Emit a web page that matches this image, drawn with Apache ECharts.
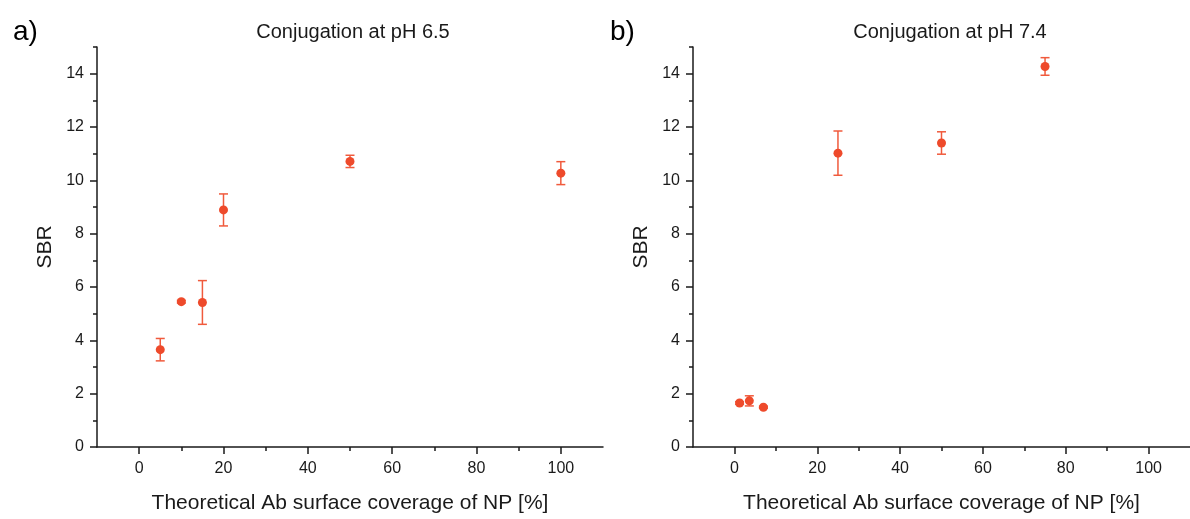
<!DOCTYPE html>
<html>
<head>
<meta charset="utf-8">
<script src="https://cdn.jsdelivr.net/npm/echarts@6/dist/echarts.min.js"></script>
<style>
html,body{margin:0;padding:0;background:#fff;}
#chart{width:1190px;height:519px;}
</style>
</head>
<body>
<div id="chart"></div>
<script>
// Panel a) Conjugation at pH 6.5
const xA = [5, 10, 15, 20, 50, 100];
const yA = [3.65, 5.45, 5.42, 8.89, 10.71, 10.27];
const eA = [0.42, 0.05, 0.82, 0.60, 0.23, 0.43];
// Panel b) Conjugation at pH 7.4
const xB = [1.25, 3.6, 7, 25, 50, 75];
const yB = [1.65, 1.73, 1.49, 11.02, 11.40, 14.27];
const eB = [0.05, 0.19, 0.04, 0.83, 0.42, 0.33];

const titles = ['Conjugation at pH 6.5', 'Conjugation at pH 7.4'];
const panelLabels = ['a)', 'b)'];
const xName = 'Theoretical Ab surface coverage of NP [%]';
const yName = 'SBR';
const xMajor = [0, 20, 40, 60, 80, 100];
const xMinor = [10, 30, 50, 70, 90];
const yMajor = [0, 2, 4, 6, 8, 10, 12, 14];
const yMinor = [1, 3, 5, 7, 9, 11, 13, 15];

const FONT = '"Liberation Sans", Arial, sans-serif';
const RED = '#EE4A2B';
const ERR = '#F05A3C';
const AX = '#1a1a1a';

const grids = [
  {left: 97, top: 47, width: 506, height: 411},
  {left: 693, top: 47, width: 510, height: 411}
];

function xAxes(gi) {
  return [
    {
      type: 'value', gridIndex: gi, min: -10, max: 110, position: 'bottom',
      name: xName, nameLocation: 'middle', nameGap: 46,
      nameTextStyle: {fontFamily: FONT, fontSize: 21, color: AX},
      axisLine: {show: true, onZero: false, lineStyle: {color: AX, width: 1.5}},
      axisTick: {show: true, length: 7, customValues: xMajor, lineStyle: {color: AX, width: 1.5}},
      axisLabel: {show: true, customValues: xMajor, margin: 14, fontFamily: FONT, fontSize: 16, color: AX},
      splitLine: {show: false}
    },
    {
      type: 'value', gridIndex: gi, min: -10, max: 110, position: 'bottom', offset: 0,
      axisLine: {show: false, onZero: false},
      axisTick: {show: true, length: 4, customValues: xMinor, lineStyle: {color: AX, width: 1.5}},
      axisLabel: {show: false},
      splitLine: {show: false}
    }
  ];
}
function yAxes(gi) {
  return [
    {
      type: 'value', gridIndex: gi, min: 0, max: 15, position: 'left',
      name: yName, nameLocation: 'middle', nameGap: 41, nameRotate: 90,
      nameTextStyle: {fontFamily: FONT, fontSize: 21, color: AX},
      axisLine: {show: true, onZero: false, lineStyle: {color: AX, width: 1.5}},
      axisTick: {show: true, length: 7, customValues: yMajor, lineStyle: {color: AX, width: 1.5}},
      axisLabel: {show: true, customValues: yMajor, margin: 13, fontFamily: FONT, fontSize: 16, color: AX},
      splitLine: {show: false}
    },
    {
      type: 'value', gridIndex: gi, min: 0, max: 15, position: 'left', offset: 0,
      axisLine: {show: false, onZero: false},
      axisTick: {show: true, length: 4, customValues: yMinor, lineStyle: {color: AX, width: 1.5}},
      axisLabel: {show: false},
      splitLine: {show: false}
    }
  ];
}

function errSeries(xs, ys, es, gi) {
  return {
    type: 'custom', xAxisIndex: gi * 2, yAxisIndex: gi * 2, z: 2,
    data: xs.map((x, i) => [x, ys[i], es[i]]),
    renderItem: function (params, api) {
      const x = api.value(0), y = api.value(1), e = api.value(2);
      const top = api.coord([x, y + e]);
      const bot = api.coord([x, y - e]);
      const hw = 4.5;
      const st = {stroke: ERR, lineWidth: 1.5, fill: null};
      return {
        type: 'group',
        children: [
          {type: 'line', shape: {x1: top[0], y1: top[1], x2: bot[0], y2: bot[1]}, style: st},
          {type: 'line', shape: {x1: top[0] - hw, y1: top[1], x2: top[0] + hw, y2: top[1]}, style: st},
          {type: 'line', shape: {x1: bot[0] - hw, y1: bot[1], x2: bot[0] + hw, y2: bot[1]}, style: st}
        ]
      };
    }
  };
}
function ptSeries(xs, ys, gi) {
  return {
    type: 'scatter', xAxisIndex: gi * 2, yAxisIndex: gi * 2, z: 3,
    symbol: 'circle', symbolSize: 9,
    itemStyle: {color: RED, opacity: 1},
    data: xs.map((x, i) => [x, ys[i]])
  };
}

const chart = echarts.init(document.getElementById('chart'), null, {renderer: 'canvas'});
chart.setOption({
  animation: false,
  backgroundColor: '#ffffff',
  title: [
    {text: titles[0], left: 348, top: 17, textAlign: 'center', textStyle: {fontFamily: FONT, fontSize: 20, fontWeight: 'normal', color: AX}},
    {text: titles[1], left: 945, top: 17, textAlign: 'center', textStyle: {fontFamily: FONT, fontSize: 20, fontWeight: 'normal', color: AX}},
    {text: panelLabels[0], left: 8, top: 13, textStyle: {fontFamily: FONT, fontSize: 28, fontWeight: 'normal', color: '#000'}},
    {text: panelLabels[1], left: 605, top: 13, textStyle: {fontFamily: FONT, fontSize: 28, fontWeight: 'normal', color: '#000'}}
  ],
  grid: grids,
  xAxis: xAxes(0).concat(xAxes(1)),
  yAxis: yAxes(0).concat(yAxes(1)),
  series: [
    errSeries(xA, yA, eA, 0), ptSeries(xA, yA, 0),
    errSeries(xB, yB, eB, 1), ptSeries(xB, yB, 1)
  ]
});
</script>
</body>
</html>
